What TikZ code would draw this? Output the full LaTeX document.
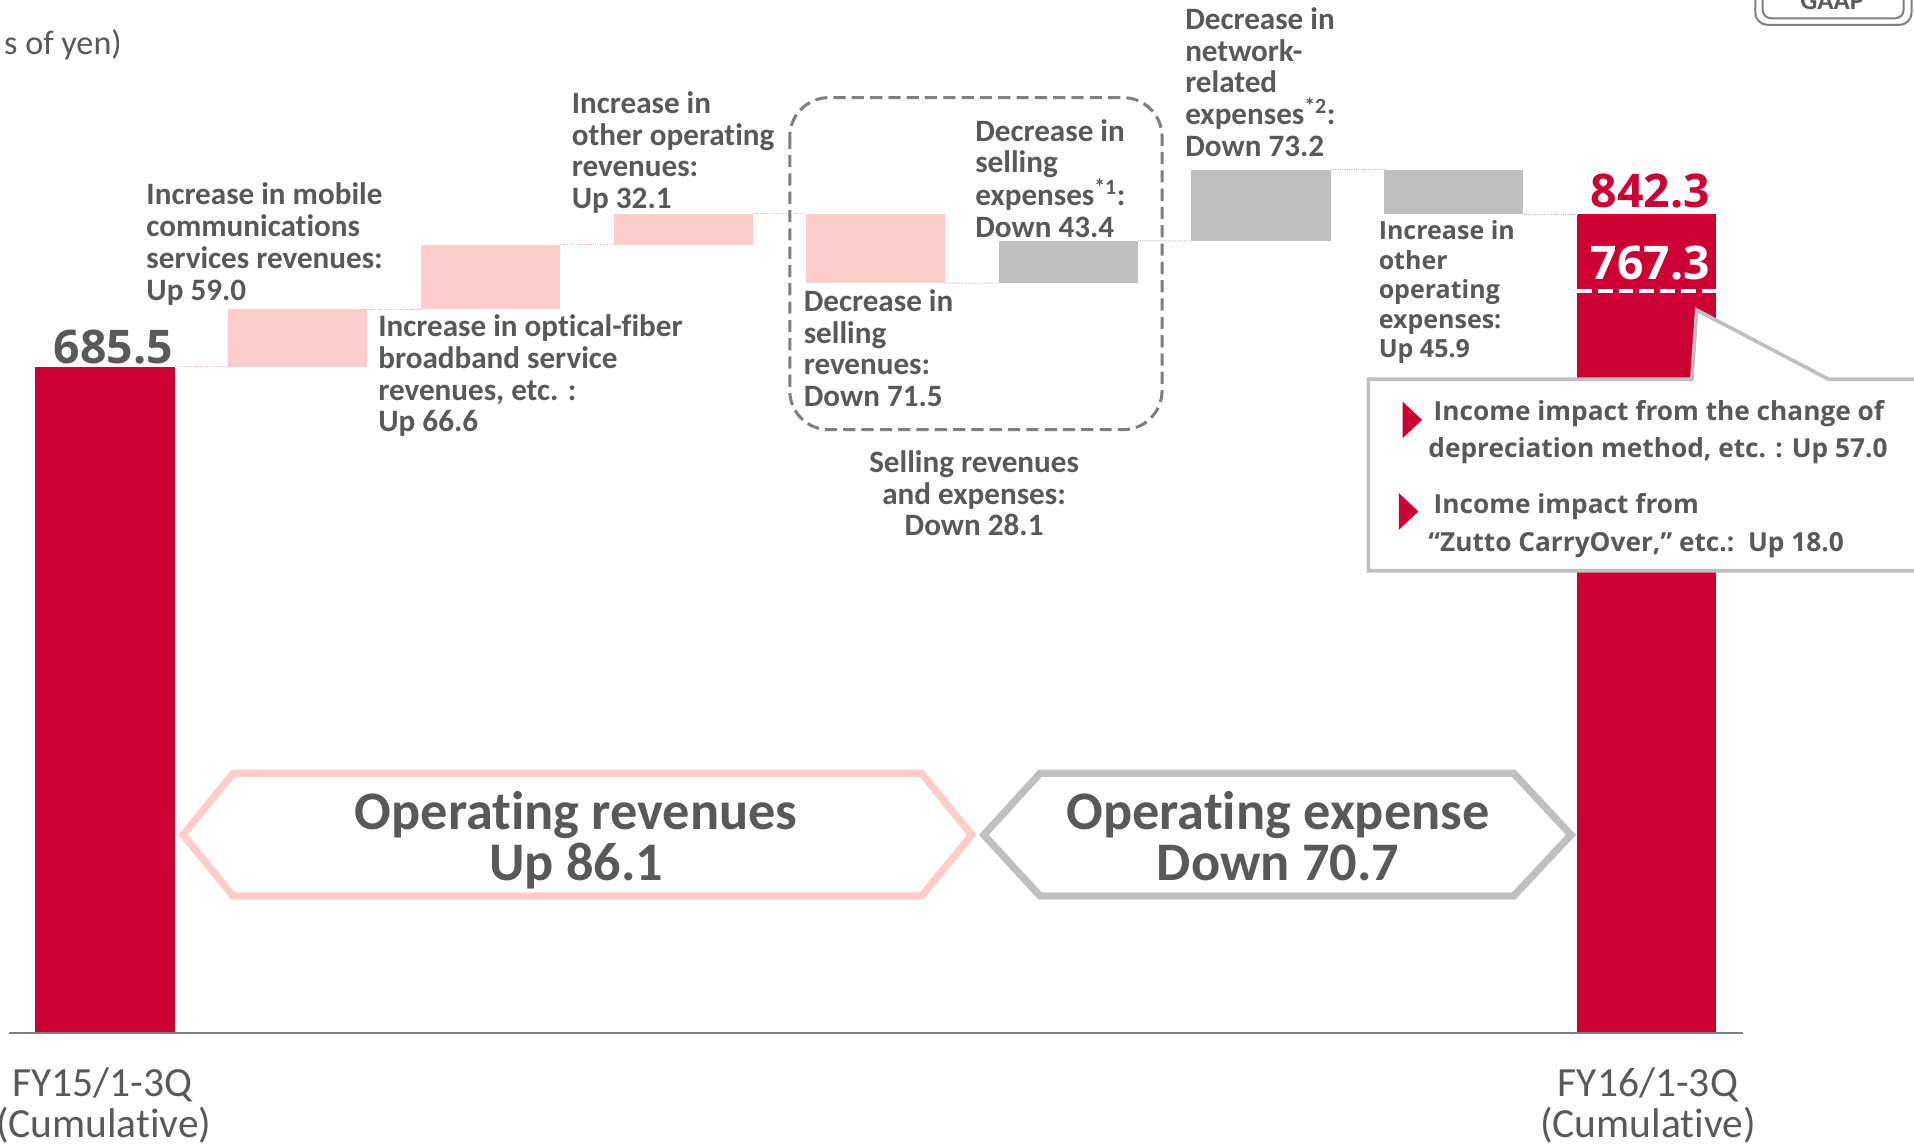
\documentclass[tikz,border=0pt]{standalone}
\usepackage{fontspec}
\setmainfont{Carlito}[Ligatures=NoCommon]
\newfontfamily\osans{Open Sans}
\usetikzlibrary{calc}
\definecolor{nred}{HTML}{CC0033}
\definecolor{npink}{HTML}{FFCCCC}
\definecolor{ngray}{HTML}{BFBFBF}
\definecolor{ntext}{HTML}{595959}
\definecolor{ndash}{HTML}{7F7F7F}
\definecolor{rdot}{HTML}{F2B8B8}
\begin{document}
\begin{tikzpicture}[x=1pt,y=-1pt,
  bar/.style={fill=#1, inner sep=0pt, outer sep=0pt, anchor=north west, minimum width=114pt},
  lbl/.style={align=left, anchor=north west, inner sep=0pt, outer sep=0pt, text=ntext,
    font=\fontsize{25.5}{26}\selectfont\bfseries, execute at begin node=\rule{0pt}{19pt}},
  lblos/.style={align=left, anchor=north west, inner sep=0pt, outer sep=0pt, text=ntext,
    font=\osans\fontsize{20.5}{24.1}\selectfont\bfseries, execute at begin node=\rule{0pt}{18pt}},
  rlink/.style={densely dotted, line width=0.9pt, draw=rdot},
  glink/.style={densely dotted, line width=0.9pt, draw=ngray},
  hext/.style={anchor=base, inner sep=0pt, text=ntext, font=\fontsize{44.5}{44.5}\selectfont\bfseries},
  valtxt/.style={anchor=base, inner sep=0pt, font=\osans\fontsize{38}{38}\selectfont\bfseries},
  ctext/.style={anchor=base west, inner sep=0pt, text=ntext, font=\osans\fontsize{21.5}{26}\selectfont\bfseries},
  axl/.style={anchor=base, inner sep=0pt, text=ntext, font=\fontsize{34}{34}\selectfont}
]
\useasboundingbox (0,0) rectangle (1568,939);
\fill[white] (0,0) rectangle (1568,939);

% GAAP box (cut off at top)
\draw[ndash, line width=1.6pt, rounded corners=10pt] (1438,-40) rectangle (1566,20.4);
\draw[ndash, line width=1.6pt, rounded corners=7pt] (1444,-40) rectangle (1559.5,15);
\node[anchor=base, inner sep=0pt, text=ntext, font=\fontsize{22}{22}\selectfont\bfseries] (gaap) at (1501,7.5) {GAAP};

% unit
\node[anchor=base east, inner sep=0pt, text=ntext, font=\fontsize{28}{28}\selectfont] (unit) at (100,44.5) {s of yen)};

% bars and boxes
\node[bar=nred,  minimum height=545.5pt] (bar1) at (29,300.5) {};
\node[bar=npink, minimum height=47pt]    (b1)   at (187,253.5) {};
\node[bar=npink, minimum height=53pt]    (b2)   at (345,200.5) {};
\node[bar=npink, minimum height=25.5pt]  (b3)   at (503,175) {};
\node[bar=npink, minimum height=56.9pt]  (b4)   at (660,175) {};
\node[bar=ngray, minimum height=34.6pt]  (b5)   at (818,197.3) {};
\node[bar=ngray, minimum height=58.2pt]  (b6)   at (976,139.1) {};
\node[bar=ngray, minimum height=36.5pt]  (b7)   at (1134,139.1) {};
\node[bar=nred,  minimum height=670.4pt] (bar2) at (1292,175.6) {};

% dotted links
\draw[rlink] (bar1.north east) -- (b1.south west);
\draw[rlink] (b1.north east) -- (b2.south west);
\draw[rlink] (b2.north east) -- (b3.south west);
\draw[rlink] (b3.north east) -- (b4.north west);
\draw[glink] (b4.south east) -- (b5.south west);
\draw[glink] (b5.north east) -- (b6.south west);
\draw[glink] (b6.north east) -- (b7.north west);
\draw[glink] (b7.south east) -- (bar2.north west);

% white dashed line on final bar
\draw[white, line width=3pt, dash pattern=on 12pt off 5pt]
  ($(bar2.north west)+(0,63)$) -- ($(bar2.north east)+(0,63)$);

% axis
\coordinate (axL) at (7,846);
\coordinate (axR) at (1428,846);
\draw[ndash, line width=1.6pt] (axL) -- (axR);

% values
\node[valtxt, text=ntext] (v1) at (93,297.6) {685.5};
\node[valtxt, text=nred]  (v2) at (1352,170) {842.3};
\node[valtxt, text=white] (v3) at (1352,229) {767.3};

% dashed group
\draw[ndash, line width=2.5pt, dash pattern=on 10pt off 5pt, rounded corners=32pt]
  (647,80) rectangle (952,352);

% labels
\node[lbl] (l1) at (120,150) {Increase in mobile\\communications\\services revenues:\\Up 59.0};
\node[lbl] (l2) at (310,257.9) {Increase in optical-fiber\\broadband service\\revenues, etc. :\\Up 66.6};
\node[lbl] (l3) at (468.5,75) {Increase in\\other operating\\revenues:\\Up 32.1};
\node[lbl] (l4) at (658.5,237.3) {Decrease in\\selling\\revenues:\\Down 71.5};
\node[lbl] (l5) at (799,97.7) {Decrease in\\selling\\expenses\textsuperscript{*1}:\\Down 43.4};
\node[lbl] (l6) at (971,6.2) {Decrease in\\network-\\related\\expenses\textsuperscript{*2}:\\Down 73.2};
\node[lblos] (l7) at (1129.5,181) {Increase in\\other\\operating\\expenses:\\Up 45.9};
\node[lbl, align=center, anchor=north] (l8) at (798,369) {Selling revenues\\and expenses:\\Down 28.1};

% callout
\draw[ngray, line width=3pt, fill=white, line join=miter]
  (1600,310.7) -- (1498,310.7) -- (1390,254) -- (1386,310.7) -- (1121,310.7)
  -- (1121,467.6) -- (1600,467.6);
\fill[nred] (1149,329) -- (1165,344) -- (1149,359) -- cycle;
\fill[nred] (1146,404) -- (1162,419) -- (1146,434) -- cycle;
\node[ctext] (c1) at (1174.3,344.6) {Income impact from the change of};
\node[ctext] (c2) at (1170,375) {depreciation method, etc. : Up 57.0};
\node[ctext] (c3) at (1174.3,420.6) {Income impact from};
\node[ctext] (c4) at (1170,452) {“Zutto CarryOver,” etc.:\ \ Up 18.0};

% hexagon arrows
\draw[npink, line width=6pt, fill=white, line join=miter]
  (150,684) -- (191,633.5) -- (755,633.5) -- (796,684) -- (755,734) -- (191,734) -- cycle;
\draw[ngray, line width=6pt, fill=white, line join=miter]
  (806,684) -- (852,633.5) -- (1240,633.5) -- (1287,684) -- (1240,734) -- (852,734) -- cycle;
\node[hext] (h1) at (472,679.5) {Operating revenues};
\node[hext] (h2) at (472,721) {Up 86.1};
\node[hext] (h3) at (1047,679.5) {Operating expense};
\node[hext] (h4) at (1047,721) {Down 70.7};

% axis labels
\node[axl] (f1) at (84,898) {FY15/1-3Q};
\node[axl] (f2) at (85,931.5) {(Cumulative)};
\node[axl] (f3) at (1350,898) {FY16/1-3Q};
\node[axl] (f4) at (1350,931.5) {(Cumulative)};
\end{tikzpicture}
\end{document}
